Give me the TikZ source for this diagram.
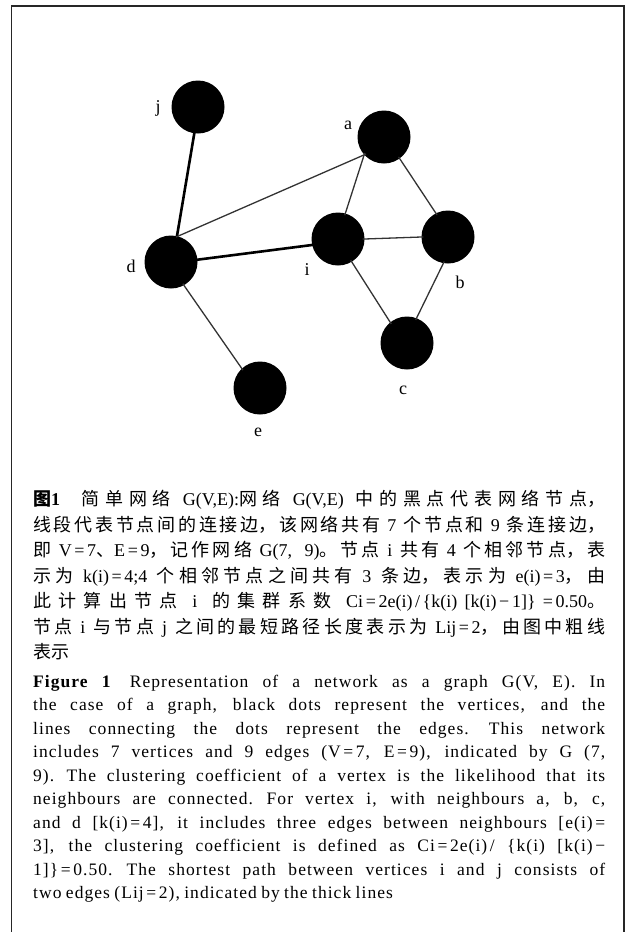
\documentclass[tikz,border=0pt]{standalone}
\usepackage{fontspec}
\setmainfont{Liberation Serif}[LetterSpace=6]
\newfontfamily\latz{Liberation Serif}
\newfontfamily\cjk{Noto Sans CJK SC}
\newcommand\zh[1]{{\cjk #1}}
\newcommand\cs{\hspace{2.5pt plus 5pt}}
\newcommand\eqs{\hspace{2.6pt}}
\tikzset{
  vtx/.style={circle, fill=black, draw=none, minimum size=53pt, inner sep=0pt},
  lbl/.style={font=\fontsize{18}{18}\latz, inner sep=0pt},
  thinedge/.style={line width=1.3pt, draw=black!80, shorten <=-2pt, shorten >=-2pt},
  thickedge/.style={line width=2.6pt, draw=black, shorten <=-2pt, shorten >=-2pt},
  framestyle/.style={line width=1.8pt, draw=black!85},
  zhcap/.style={anchor=base west, inner sep=0pt, text width=572pt, align=justify, font=\fontsize{18}{25.5}\latz},
  encap/.style={anchor=base west, inner sep=0pt, text width=572pt, align=justify, font=\fontsize{17.5}{23.45}\selectfont},
}
\begin{document}
\begin{tikzpicture}[x=1pt,y=-1pt]
\useasboundingbox (0,0) rectangle (629,932);
\draw[framestyle] (11.5,950) -- (11.5,6) -- (624,6) -- (624,950);

% vertices
\node[vtx] (j) at (198,107) {};
\node[vtx] (a) at (384,137) {};
\node[vtx] (d) at (171,262) {};
\node[vtx] (i) at (338,239) {};
\node[vtx] (b) at (448,237) {};
\node[vtx] (c) at (407,343) {};
\node[vtx] (e) at (260,388) {};

% labels
\node[lbl] (lj) at (158,108) {j};
\node[lbl] (la) at (348,125) {a};
\node[lbl] (ld) at (131,266) {d};
\node[lbl] (li) at (307,270) {i};
\node[lbl] (lb) at (460,282) {b};
\node[lbl] (lc) at (403,390) {c};
\node[lbl] (le) at (258,432) {e};

% edges
\draw[thickedge] (j.262) -- (d.77);
\draw[thickedge] (d.5) -- (i.193);
\draw[thinedge] (d.75) -- (a.222);
\draw[thinedge] (d.299) -- (e.133);
\draw[thinedge] (a.222) -- (i.74);
\draw[thinedge] (a.306) -- (b.117);
\draw[thinedge] (i.east) -- (b.west);
\draw[thinedge] (i.301) -- (c.129);
\draw[thinedge] (b.260) -- (c.69);

% Chinese caption
\node[zhcap] (zh) at (33,505.5) {\tolerance=10000\emergencystretch=0pt\hbadness=10000\XeTeXlinebreaklocale "zh"\XeTeXlinebreakskip=0pt plus 3pt\spaceskip=4.5pt plus 6pt minus 0.5pt
{\bfseries\zh{图}1}\hspace{1.2em}\zh{简单网络}\cs G(V,E):\zh{网络}\cs G(V,E)\cs\zh{中的黑点代表网络节点，}\linebreak
\zh{线段代表节点间的连接边，该网络共有}\cs 7\cs\zh{个节点和}\cs 9\cs\zh{条连接边，}\linebreak
\zh{即}\cs V\eqs=\eqs 7\zh{、}E\eqs=\eqs 9\zh{，记作网络}\cs G(7, 9)\zh{。节点}\cs i\cs\zh{共有}\cs 4\cs\zh{个相邻节点，表}\linebreak
\zh{示为}\cs k(i)\eqs=\eqs 4;4\cs\zh{个相邻节点之间共有}\cs 3\cs\zh{条边，表示为}\cs e(i)\eqs=\eqs 3\zh{，由}\linebreak
\zh{此计算出节点}\cs i\cs\zh{的集群系数}\cs Ci\eqs=\eqs 2e(i)\eqs/\eqs\{k(i)[k(i)\eqs−\eqs 1]\}=\eqs 0.50\zh{。}\linebreak
\zh{节点}\cs i\cs\zh{与节点}\cs j\cs\zh{之间的最短路径长度表示为}\cs Lij\eqs=\eqs 2\zh{，由图中粗线}\linebreak
\zh{表示}};

% English caption
\node[encap] (en) at (33,687.5) {\tolerance=10000\emergencystretch=0pt\hbadness=10000\spaceskip=4.4pt plus 14pt minus 0.5pt\xspaceskip=6pt plus 14pt
{\bfseries Figure 1}\hspace{1.1em}Representation of a network as a graph G(V, E). In\linebreak
the case of a graph, black dots represent the vertices, and the\linebreak
lines connecting the dots represent the edges. This network\linebreak
includes 7 vertices and 9 edges (V\eqs=\eqs 7, E\eqs=\eqs 9), indicated by G (7,\linebreak
9). The clustering coefficient of a vertex is the likelihood that its\linebreak
neighbours are connected. For vertex i, with neighbours a, b, c,\linebreak
and d [k(i)\eqs=\eqs 4], it includes three edges between neighbours [e(i)\eqs=\linebreak
3], the clustering coefficient is defined as Ci\eqs=\eqs 2e(i)\eqs/ \{k(i) [k(i)\eqs−\linebreak
1]\}\eqs=\eqs 0.50. The shortest path between vertices i and j consists of\linebreak
two edges (Lij\eqs=\eqs 2), indicated by the thick lines};
\end{tikzpicture}
\end{document}
